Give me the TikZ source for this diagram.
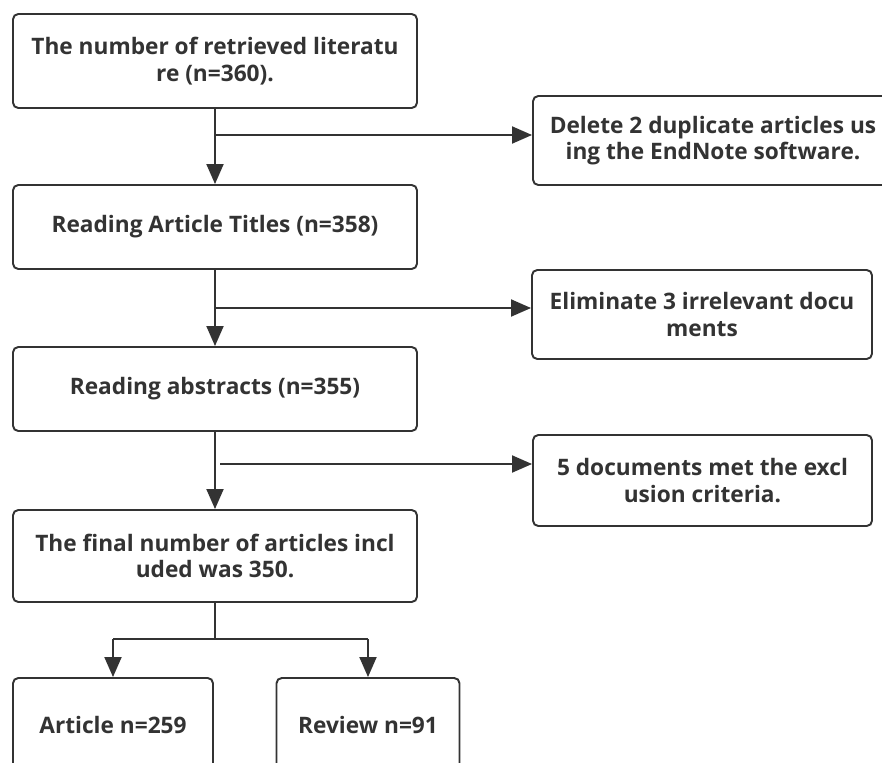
\documentclass[tikz,border=0pt]{standalone}
\usepackage{fontspec}
\setmainfont{Open Sans}
\usepackage{tikz}
\usetikzlibrary{arrows.meta,positioning}
\definecolor{trait}{HTML}{333333}
\tikzstyle{boite}=[draw=trait, line width=1.1pt, rounded corners=3pt, fill=white, align=center,
    text=trait, font=\fontsize{12.9}{15.2}\selectfont\bfseries, inner sep=0pt]
\tikzstyle{fleche}=[draw=trait, line width=1.1pt, -{Triangle[length=0.4cm,width=0.34cm]}]
\tikzstyle{trait}=[draw=trait, line width=1.1pt]

\begin{document}
\begin{tikzpicture}

% cadre
\useasboundingbox (0,0) rectangle (17.64,-15.24);
\clip (0,0) rectangle (17.64,-15.24);

% structure
\node[boite, minimum width=8.08cm, minimum height=1.88cm] (lit) at (4.3,-1.22)
    {The number of retrieved literatu\\re (n=360).};
\node[boite, minimum width=8.08cm, minimum height=1.68cm] (titles) at (4.3,-4.54)
    {Reading Article Titles (n=358)};
\node[boite, minimum width=8.08cm, minimum height=1.68cm] (abstracts) at (4.3,-7.78)
    {Reading abstracts (n=355)};
\node[boite, minimum width=8.08cm, minimum height=1.84cm] (final) at (4.3,-11.12)
    {The final number of articles incl\\uded was 350.};
\node[boite, minimum width=4.0cm, minimum height=1.88cm] (article) at (2.26,-14.5)
    {Article n=259};
\node[boite, minimum width=3.66cm, minimum height=1.88cm] (review) at (7.36,-14.5)
    {Review n=91};

% exclusions
\node[boite, minimum width=7.2cm, minimum height=1.78cm] (dup) at (14.26,-2.81)
    {Delete 2 duplicate articles us\\ing the EndNote software.};
\node[boite, minimum width=6.8cm, minimum height=1.78cm] (irrel) at (14.04,-6.29)
    {Eliminate 3 irrelevant docu\\ments};
\node[boite, minimum width=6.78cm, minimum height=1.82cm] (excl) at (14.05,-9.61)
    {5 documents met the excl\\usion criteria.};

% fleches
\coordinate (j1) at (4.3,-2.7);
\coordinate (j2) at (4.3,-6.16);
\coordinate (j3) at (4.4,-9.28);
\draw[fleche] (lit) -- (titles);
\draw[fleche] (titles) -- (abstracts);
\draw[fleche] (abstracts) -- (final);
\draw[fleche] (j1) -- (j1 -| dup.west);
\draw[fleche] (j2) -- (j2 -| irrel.west);
\draw[fleche] (j3) -- (j3 -| excl.west);

% repartition
\coordinate (fork) at (4.3,-12.78);
\coordinate (fa) at (2.26,-12.78);
\coordinate (fr) at (7.36,-12.78);
\draw[trait] (final) -- (fork);
\draw[trait] (fa) -- (fr);
\draw[fleche] (fa) -- (article.north);
\draw[fleche] (fr) -- (review.north);

\end{tikzpicture}
\end{document}
